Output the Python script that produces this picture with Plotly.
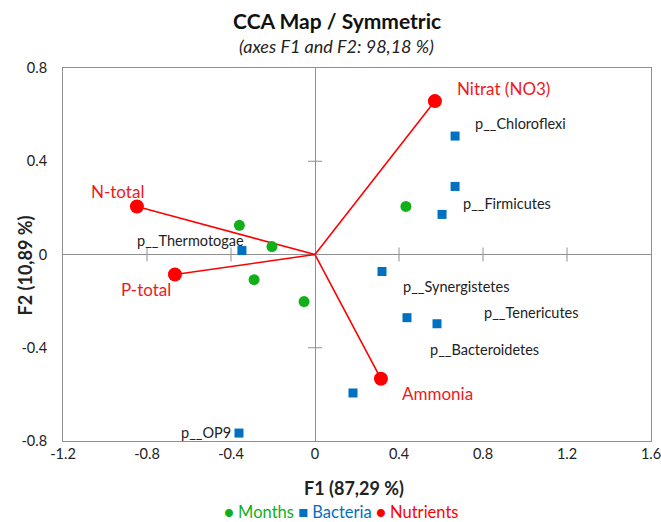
import plotly.graph_objects as go

# CCA map (XLSTAT style)
months_x = [-0.36, -0.205, -0.29, -0.052, 0.433]
months_y = [0.125, 0.034, -0.108, -0.202, 0.206]

bact_x = [0.667, 0.667, 0.605, -0.348, 0.319, 0.438, 0.581, 0.181, -0.362]
bact_y = [0.508, 0.292, 0.172, 0.017, -0.073, -0.271, -0.297, -0.594, -0.766]
bact_labels = ["p__Chloroflexi", "", "p__Firmicutes", "p__Thermotogae", "p__Synergistetes",
               "p__Bacteroidetes", "p__Tenericutes", "", "p__OP9"]

nutr_x = [0.571, -0.848, -0.667, 0.314]
nutr_y = [0.658, 0.206, -0.086, -0.533]
nutr_labels = ["Nitrat (NO3)", "N-total", "P-total", "Ammonia"]

x_ticks = [-1.2, -0.8, -0.4, 0, 0.4, 0.8, 1.2, 1.6]
y_ticks = [-0.8, -0.4, 0, 0.4, 0.8]

# label placement (anchor, pixel offsets from the point)
bact_lab_pos = {
    "p__Chloroflexi": ("left", 18, 13),
    "p__Firmicutes": ("left", 19, 11),
    "p__Thermotogae": ("right", 4, 10),
    "p__Synergistetes": ("left", 19, -15),
    "p__Bacteroidetes": ("left", 21, -32),
    "p__Tenericutes": ("left", 45, 11),
    "p__OP9": ("right", -6, 1),
}
nutr_lab_pos = {
    "Nitrat (NO3)": ("left", 20, 13),
    "N-total": ("right", 9, 15),
    "P-total": ("right", -2, -15),
    "Ammonia": ("left", 19, -15),
}

RED = "#ff0000"
GREEN = "#11b01a"
BLUE = "#0070c0"
GREY = "#8f8f8f"
FONT = "Lato"

fig = go.Figure()

# vectors from origin to nutrients
lx, ly = [], []
for x, y in zip(nutr_x, nutr_y):
    lx += [0, x, None]
    ly += [0, y, None]
fig.add_trace(go.Scatter(x=lx, y=ly, mode="lines", line=dict(color=RED, width=1.6),
                         showlegend=False, hoverinfo="skip"))

# small tick crosses on the zero axes
inner_x = [t for t in x_ticks if t not in (0, x_ticks[0], x_ticks[-1])]
inner_y = [t for t in y_ticks if t not in (0, y_ticks[0], y_ticks[-1])]
fig.add_trace(go.Scatter(x=inner_x, y=[0] * len(inner_x), mode="markers",
                         marker=dict(symbol="line-ns", size=10, line=dict(color=GREY, width=1)),
                         showlegend=False, hoverinfo="skip"))
fig.add_trace(go.Scatter(x=[0] * len(inner_y), y=inner_y, mode="markers",
                         marker=dict(symbol="line-ew", size=10, line=dict(color=GREY, width=1)),
                         showlegend=False, hoverinfo="skip"))

fig.add_trace(go.Scatter(x=months_x, y=months_y, mode="markers", name="Months",
                         marker=dict(color=GREEN, size=11, symbol="circle")))
fig.add_trace(go.Scatter(x=bact_x, y=bact_y, mode="markers", name="Bacteria",
                         marker=dict(color=BLUE, size=9, symbol="square")))
fig.add_trace(go.Scatter(x=nutr_x, y=nutr_y, mode="markers", name="Nutrients",
                         marker=dict(color=RED, size=14, symbol="circle")))

for x, y, lab in zip(bact_x, bact_y, bact_labels):
    if not lab:
        continue
    anchor, dx, dy = bact_lab_pos[lab]
    fig.add_annotation(x=x, y=y, text=lab, showarrow=False, xanchor=anchor,
                       xshift=dx, yshift=dy, font=dict(family=FONT, size=14.5, color="#222222"))

for x, y, lab in zip(nutr_x, nutr_y, nutr_labels):
    anchor, dx, dy = nutr_lab_pos[lab]
    fig.add_annotation(x=x, y=y, text=lab, showarrow=False, xanchor=anchor,
                       xshift=dx, yshift=dy, font=dict(family=FONT, size=17, color="#f01818"))

# subtitle
fig.add_annotation(xref="paper", yref="paper", x=0.465, y=1.06, xanchor="center", yanchor="middle",
                   text="<i>(axes F1 and F2: 98,18 %)</i>", showarrow=False,
                   font=dict(family=FONT, size=18, color="#222222"))

# axis titles
fig.add_annotation(xref="paper", yref="paper", x=0.495, y=-0.126, xanchor="center", yanchor="middle",
                   text="<b>F1 (87,29 %)</b>", showarrow=False,
                   font=dict(family=FONT, size=18, color="#222222"))
fig.add_annotation(xref="paper", yref="paper", x=-0.065, y=0.47, xanchor="center", yanchor="middle",
                   text="<b>F2 (10,89 %)</b>", showarrow=False, textangle=-90,
                   font=dict(family=FONT, size=18, color="#222222"))

# legend drawn as a compact coloured line, Excel style
fig.add_annotation(xref="paper", yref="paper", x=0.473, y=-0.19, xanchor="center", yanchor="middle",
                   text=(f"<span style='color:{GREEN}'>● Months</span> "
                         f"<span style='color:{BLUE}'>■ Bacteria</span> "
                         f"<span style='color:{RED}'>● Nutrients</span>"),
                   showarrow=False, font=dict(family=FONT, size=16.5))

fig.update_layout(
    width=661, height=522,
    margin=dict(l=63, r=10, t=68, b=81, autoexpand=False),
    paper_bgcolor="white", plot_bgcolor="white",
    showlegend=False,
    font=dict(family=FONT, size=14.5, color="#222222"),
    title=dict(text="<b>CCA Map / Symmetric</b>", x=0.51, xanchor="center",
               xref="container", yref="container", y=1 - 22 / 522, yanchor="middle",
               automargin=False, font=dict(family=FONT, size=21, color="#111111")),
)
fig.update_xaxes(range=[-1.2, 1.6], tickvals=x_ticks, ticktext=[f"{t:g}" for t in x_ticks],
                 showgrid=False, zeroline=True, zerolinecolor=GREY, zerolinewidth=1,
                 showline=True, linecolor=GREY, mirror=True, ticks="", automargin=False,
                 ticklabeloverflow="allow")
fig.update_yaxes(range=[-0.8, 0.8], tickvals=y_ticks, ticktext=[f"{t:g}" for t in y_ticks],
                 showgrid=False, zeroline=True, zerolinecolor=GREY, zerolinewidth=1,
                 showline=True, linecolor=GREY, mirror=True, ticks="", automargin=False,
                 ticklabelstandoff=12, ticklabeloverflow="allow")

# drop the browser's default body margin so the figure sits at the window corner
fig.write_html("out.html", config={"displayModeBar": False},
               post_script="document.body.style.margin = '0';")
